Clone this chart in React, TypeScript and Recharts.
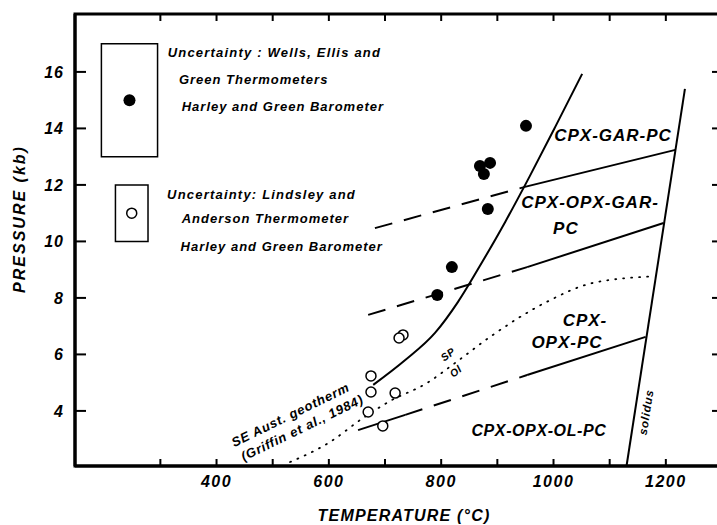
import React from 'react';
import { ComposedChart, Line, Scatter, XAxis, YAxis, ReferenceArea, ReferenceDot } from 'recharts';

const FONT = '"Liberation Sans", Arial, Helvetica, sans-serif';

// axis ticks
const tempTicks = [300, 400, 500, 600, 700, 800, 900, 1000, 1100, 1200];
const tempLabels = [400, 600, 800, 1000, 1200];
const pressTicks = [4, 6, 8, 10, 12, 14, 16];

// Wells / Ellis & Green thermometers, Harley & Green barometer
const wellsT = [951, 869, 887, 876, 883, 819, 793];
const wellsP = [14.09, 12.67, 12.78, 12.39, 11.15, 9.09, 8.1];

// Lindsley & Anderson thermometer, Harley & Green barometer
const lindsleyT = [732, 725, 675, 675, 718, 670, 696];
const lindsleyP = [6.69, 6.58, 5.24, 4.67, 4.63, 3.96, 3.47];

// garnet-in curve
const garnetT = [679, 736, 789, 830, 873, 914, 958, 1004, 1051];
const garnetP = [4.92, 5.8, 6.76, 7.86, 9.27, 10.69, 12.32, 14.09, 15.93];

// spinel / olivine transition
const spOlT = [531, 602, 661, 709, 775, 825, 892, 988, 1070, 1175];
const spOlP = [2.19, 2.9, 3.75, 4.35, 4.99, 5.7, 6.69, 7.86, 8.53, 8.76];

const solidusT = [1130, 1234];
const solidusP = [2.05, 15.4];

// field boundaries: dashed below ~950 °C, solid above
const garOpxT = [682, 949, 1217];
const garOpxP = [10.47, 11.93, 13.24];
const opxGarT = [670, 953, 1196];
const opxGarP = [7.4, 9.09, 10.65];
const opxOlT = [652, 736, 953, 1164];
const opxOlP = [3.32, 3.86, 5.27, 6.62];

type Row = { t: number; p: number };
const rows = (ts: number[], ps: number[]): Row[] => ts.map((t, i) => ({ t, p: ps[i] }));

const T_MIN = 148;
const T_MAX = 1300;
const P_MIN = 2.05;
const P_MAX = 18.05;

// chart box and plot area (same numbers are handed to the chart below)
const CHART_W = 730;
const CHART_H = 525;
const MARGIN = { top: 14, right: 8, bottom: 0, left: 0 };
const Y_AXIS_W = 75;
const X_AXIS_H = 59;
const PLOT = {
  left: MARGIN.left + Y_AXIS_W,
  right: CHART_W - MARGIN.right,
  top: MARGIN.top,
  bottom: CHART_H - MARGIN.bottom - X_AXIS_H,
};
const sx = (t: number) => PLOT.left + ((t - T_MIN) / (T_MAX - T_MIN)) * (PLOT.right - PLOT.left);
const sy = (p: number) => PLOT.bottom - ((p - P_MIN) / (P_MAX - P_MIN)) * (PLOT.bottom - PLOT.top);

const tickFont = { fontFamily: FONT, fontSize: 16, fontWeight: 700, fontStyle: 'italic', letterSpacing: 1.5, fill: '#000' } as const;
const axisLine = { stroke: '#000', strokeWidth: 3 };

type NoteOpts = { size?: number; angle?: number; anchor?: 'start' | 'middle' | 'end'; spacing?: number };

// text pinned to a (temperature, pressure) position
const note = (key: string, t: number, p: number, text: string, opts: NoteOpts = {}) => (
  <ReferenceDot
    key={key}
    x={t}
    y={p}
    r={0}
    shape={(d: any) => (
      <text
        x={d.cx}
        y={d.cy}
        textAnchor={opts.anchor ?? 'middle'}
        transform={opts.angle ? `rotate(${opts.angle} ${d.cx} ${d.cy})` : undefined}
        style={{
          fontFamily: FONT,
          fontSize: opts.size ?? 13,
          fontWeight: 700,
          fontStyle: 'italic',
          letterSpacing: opts.spacing ?? 1,
          fill: '#000',
        }}
      >
        {text}
      </text>
    )}
  />
);

const curve = (key: string, data: Row[], dash?: string, width = 2, smooth = false) => (
  <Line
    key={key}
    data={data}
    dataKey="p"
    type={smooth ? 'monotone' : 'linear'}
    stroke="#000"
    strokeWidth={width}
    strokeDasharray={dash}
    strokeLinecap={dash === '1 7' ? 'round' : 'butt'}
    dot={false}
    activeDot={false}
    isAnimationActive={false}
  />
);

// frame edges and inward ticks on all four sides
const Frame: React.FC = () => (
  <svg width={CHART_W} height={CHART_H} style={{ position: 'absolute', left: 0, top: 0, pointerEvents: 'none' }}>
    <rect
      x={PLOT.left}
      y={PLOT.top}
      width={PLOT.right - PLOT.left}
      height={PLOT.bottom - PLOT.top}
      fill="none"
      stroke="#000"
      strokeWidth={3}
    />
    {tempTicks.map((t) => (
      <g key={`tx${t}`} stroke="#000" strokeWidth={2}>
        <line x1={sx(t)} x2={sx(t)} y1={PLOT.bottom} y2={PLOT.bottom - 7} />
        <line x1={sx(t)} x2={sx(t)} y1={PLOT.top} y2={PLOT.top + 7} />
      </g>
    ))}
    {pressTicks.map((p) => (
      <g key={`ty${p}`} stroke="#000" strokeWidth={2}>
        <line x1={PLOT.left} x2={PLOT.left + 11} y1={sy(p)} y2={sy(p)} />
        <line x1={PLOT.right - 10} x2={PLOT.right} y1={sy(p)} y2={sy(p)} />
      </g>
    ))}
  </svg>
);

const App: React.FC = () => {
  const garOpx = rows(garOpxT, garOpxP);
  const opxGar = rows(opxGarT, opxGarP);
  const opxOl = rows(opxOlT, opxOlP);

  return (
    <div style={{ position: 'fixed', left: 0, top: 0, width: 717, height: 525, overflow: 'hidden', background: '#fff' }}>
      <div style={{ position: 'relative', width: CHART_W, height: CHART_H }}>
        <ComposedChart width={CHART_W} height={CHART_H} margin={MARGIN}>
          <XAxis
            type="number"
            dataKey="t"
            domain={[T_MIN, T_MAX]}
            ticks={tempLabels}
            interval={0}
            height={X_AXIS_H}
            axisLine={axisLine}
            tickLine={false}
            tickSize={0}
            tickMargin={10}
            tick={tickFont}
            label={{
              content: () => (
                <text x={404} y={521} textAnchor="middle" style={{ ...tickFont, letterSpacing: 1.2 }}>
                  TEMPERATURE (°C)
                </text>
              ),
            }}
          />
          <YAxis
            type="number"
            dataKey="p"
            domain={[P_MIN, P_MAX]}
            ticks={pressTicks}
            interval={0}
            width={Y_AXIS_W}
            axisLine={axisLine}
            tickLine={false}
            tickSize={0}
            tickMargin={11}
            tick={{ ...tickFont, letterSpacing: 1 }}
            label={{
              content: () => (
                <text x={25} y={219} textAnchor="middle" transform="rotate(-90 25 219)" style={{ ...tickFont, letterSpacing: 2 }}>
                  PRESSURE (kb)
                </text>
              ),
            }}
          />

          {/* uncertainty boxes */}
          <ReferenceArea x1={195} x2={295} y1={13} y2={17} fill="none" stroke="#000" strokeWidth={1.5} fillOpacity={0} />
          <ReferenceArea x1={220} x2={278} y1={10} y2={12} fill="none" stroke="#000" strokeWidth={1.5} fillOpacity={0} />
          <ReferenceDot x={245} y={15} r={6} fill="#000" stroke="none" />
          <ReferenceDot x={249} y={11} r={5} fill="#fff" stroke="#000" strokeWidth={1.5} />

          {curve('garnet', rows(garnetT, garnetP), undefined, 2, true)}
          {curve('solidus', rows(solidusT, solidusP))}
          {curve('spol', rows(spOlT, spOlP), '1 7', 1.8, true)}
          {curve('garopx-d', garOpx.slice(0, 2), '18 12')}
          {curve('garopx-s', garOpx.slice(1))}
          {curve('opxgar-d', opxGar.slice(0, 2), '18 12')}
          {curve('opxgar-s', opxGar.slice(1))}
          {curve('opxol-s1', opxOl.slice(0, 2))}
          {curve('opxol-d', opxOl.slice(1, 3), '18 12')}
          {curve('opxol-s2', opxOl.slice(2))}

          <Scatter
            data={rows(wellsT, wellsP)}
            dataKey="p"
            isAnimationActive={false}
            shape={(d: any) => <circle cx={d.cx} cy={d.cy} r={6} fill="#000" />}
          />
          <Scatter
            data={rows(lindsleyT, lindsleyP)}
            dataKey="p"
            isAnimationActive={false}
            shape={(d: any) => <circle cx={d.cx} cy={d.cy} r={5} fill="#fff" stroke="#000" strokeWidth={1.5} />}
          />

          {note('l1', 313, 16.53, 'Uncertainty : Wells, Ellis and', { anchor: 'start', spacing: 1.2 })}
          {note('l2', 333, 15.57, 'Green Thermometers', { anchor: 'start', spacing: 1.0 })}
          {note('l3', 338, 14.62, 'Harley and Green Barometer', { anchor: 'start', spacing: 1.0 })}
          {note('l4', 312, 11.5, 'Uncertainty: Lindsley and', { anchor: 'start', spacing: 1.2 })}
          {note('l5', 338, 10.65, 'Anderson Thermometer', { anchor: 'start', spacing: 1.0 })}
          {note('l6', 336, 9.66, 'Harley and Green Barometer', { anchor: 'start', spacing: 1.0 })}

          {note('f1', 1106, 13.55, 'CPX-GAR-PC', { size: 17, spacing: 1 })}
          {note('f2', 1065, 11.18, 'CPX-OPX-GAR-', { size: 17, spacing: 1 })}
          {note('f3', 1022, 10.26, 'PC', { size: 17, spacing: 1 })}
          {note('f4', 1056, 7.01, 'CPX-', { size: 17, spacing: 1 })}
          {note('f5', 1024, 6.23, 'OPX-PC', { size: 17, spacing: 1 })}
          {note('f6', 974, 3.11, 'CPX-OPX-OL-PC', { size: 16, spacing: 0.6 })}

          {note('sol', 1172, 3.93, 'solidus', { size: 11.5, angle: -81, spacing: 0.8 })}
          {note('sp', 816, 5.9, 'SP', { size: 10.5, angle: -38, spacing: 0.5 })}
          {note('ol', 830, 5.3, 'Ol', { size: 10.5, angle: -38, spacing: 0.5 })}
          {note('geo1', 535, 3.72, 'SE Aust. geotherm', { size: 13, angle: -26, spacing: 0.8 })}
          {note('geo2', 556, 3.26, '(Griffin et al., 1984)', { size: 13, angle: -26, spacing: 0.8 })}
        </ComposedChart>
        <Frame />
      </div>
    </div>
  );
};

export default App;
